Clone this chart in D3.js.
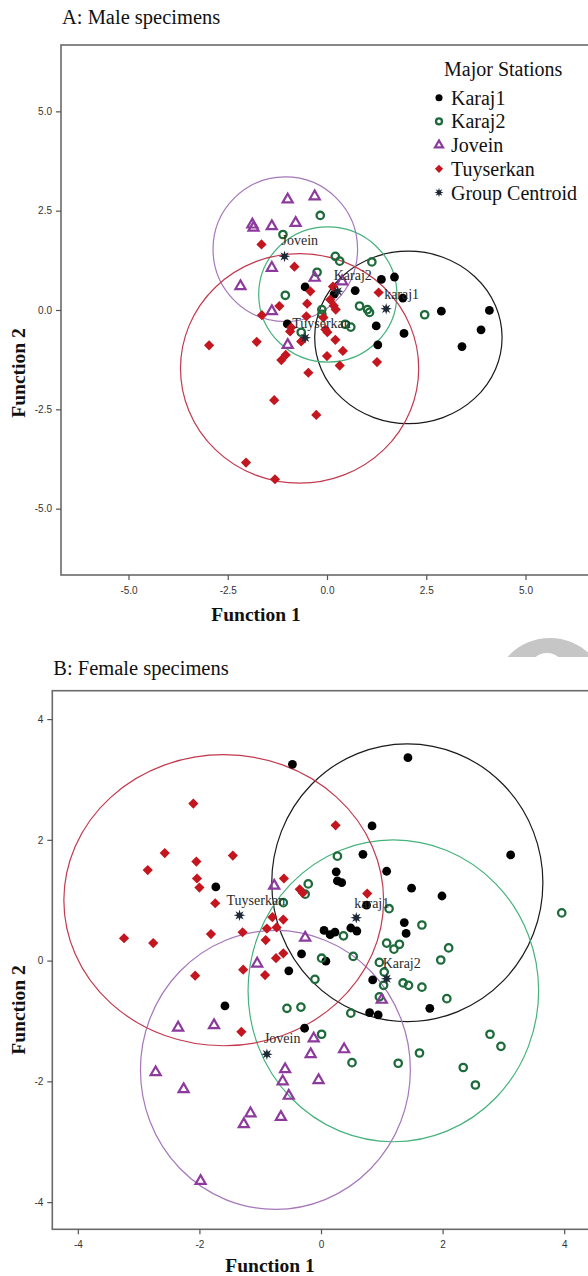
<!DOCTYPE html>
<html>
<head>
<meta charset="utf-8">
<script src="https://cdn.jsdelivr.net/npm/d3@7"></script>
<style>
  html, body { margin: 0; padding: 0; background: #fff; }
  svg { display: block; }
</style>
</head>
<body>
<svg id="chart" width="588" height="1276"></svg>
<script>
// discriminant scores (Function 1, Function 2)

const stations = ['Karaj1', 'Karaj2', 'Jovein', 'Tuyserkan']
const centroidLabels = ['karaj1', 'Karaj2', 'Jovein', 'Tuyserkan']
const legendLabels = ['Karaj1', 'Karaj2', 'Jovein', 'Tuyserkan', 'Group Centroid']

// A: male specimens
const maleKaraj1 = [[-0.55, 0.58], [1.37, 0.77], [1.70, 0.83], [0.71, 0.49], [1.91, 0.30], [2.88, -0.03],
    [4.09, -0.01], [1.24, -0.40], [1.94, -0.59], [3.88, -0.50], [3.40, -0.92], [1.28, -0.88],
    [-1.00, -0.35], [0.18, 0.40]]
const maleKaraj2 = [[-0.17, 2.38], [-1.11, 1.90], [0.21, 1.35], [0.32, 1.23], [1.13, 1.21], [-0.25, 0.95],
    [-1.05, 0.37], [0.82, 0.10], [1.02, 0.01], [1.07, -0.06], [0.46, -0.36], [0.60, -0.43],
    [-0.65, -0.56], [2.46, -0.12], [-0.13, 0.01], [-0.13, -0.11]]
const maleJovein = [[-0.99, 2.78], [-0.31, 2.86], [-1.88, 2.15], [-1.85, 2.07], [-1.39, 2.11], [-0.79, 2.19],
    [-1.39, 1.06], [-2.18, 0.60], [-0.31, 0.81], [0.38, 0.72], [-1.39, -0.03], [-0.99, -0.88]]
const maleTuyserkan = [[-1.65, 1.65], [-0.82, 1.09], [-0.42, 0.47], [0.15, 0.59], [-0.50, 0.16], [-1.20, 0.10],
    [-1.64, -0.13], [-0.52, -0.16], [0.08, 0.26], [0.17, 0.11], [0.22, 0.01], [1.30, 0.44],
    [-0.90, -0.44], [-0.93, -0.54], [-0.04, -0.49], [0.01, -0.56], [-0.65, -0.79], [0.21, -0.75],
    [-1.77, -0.80], [-2.97, -0.89], [0.40, -1.03], [0.00, -1.16], [-1.04, -1.13], [-1.15, -1.26],
    [1.26, -1.31], [0.32, -1.40], [-0.47, -1.58], [-1.33, -2.27], [-0.27, -2.64], [-2.04, -3.84],
    [-1.31, -4.26], [-0.09, -0.19]]
const maleCentroids = [[1.49, 0.03], [0.27, 0.47], [-1.07, 1.35], [-0.55, -0.70]]
// territory circles: centre x, centre y, radius along x, radius along y
const maleCircles = [[2.05, -0.69, 2.36, 2.17], [0.02, 0.39, 1.74, 1.70], [-1.05, 1.53, 1.82, 1.82], [-0.69, -1.47, 3.00, 2.89]]
const maleTicks = [-5, -2.5, 0, 2.5, 5]

// B: female specimens
const femaleKaraj1 = [[-0.47, 3.25], [1.43, 3.36], [0.84, 2.23], [3.12, 1.75], [0.69, 1.76], [0.25, 1.47],
    [1.08, 1.48], [0.27, 1.32], [0.34, 1.29], [1.49, 1.20], [1.99, 1.07], [0.75, 0.92],
    [1.37, 0.63], [1.40, 0.45], [0.05, 0.50], [0.15, 0.43], [0.23, 0.47], [0.49, 0.54],
    [0.59, 0.49], [-0.32, 0.11], [0.08, -0.01], [-0.53, -0.17], [0.85, -0.32], [1.79, -0.79],
    [-1.73, 1.22], [-1.58, -0.75], [-0.27, -1.12], [0.80, -0.86], [0.94, -0.90]]
const femaleKaraj2 = [[0.27, 1.73], [-0.21, 1.27], [-0.26, 1.10], [-0.62, 0.96], [1.12, 0.86], [1.66, 0.59],
    [3.96, 0.79], [0.37, 0.41], [1.08, 0.29], [1.20, 0.19], [1.29, 0.27], [2.10, 0.21],
    [0.53, 0.07], [0.01, 0.04], [1.97, 0.01], [0.96, -0.03], [1.04, -0.19], [1.03, -0.41],
    [1.35, -0.37], [1.44, -0.41], [1.66, -0.44], [-0.10, -0.31], [0.96, -0.60], [2.07, -0.63],
    [-0.56, -0.79], [-0.33, -0.77], [0.49, -0.87], [0.01, -1.22], [0.51, -1.69], [1.27, -1.70],
    [1.62, -1.53], [2.78, -1.22], [2.96, -1.42], [2.34, -1.77], [2.54, -2.06]]
const femaleJovein = [[-0.77, 1.24], [-1.05, -0.05], [-0.26, 0.38], [1.00, -0.65], [-2.35, -1.11], [-1.76, -1.07],
    [-2.72, -1.85], [-2.26, -2.13], [-0.59, -1.80], [-0.63, -2.00], [-0.53, -2.24], [-1.16, -2.53],
    [-1.27, -2.71], [-0.66, -2.59], [-1.98, -3.65], [-0.12, -1.29], [-0.17, -1.55], [0.38, -1.47],
    [-0.04, -1.98]]
const femaleTuyserkan = [[-2.10, 2.60], [-2.57, 1.78], [-2.85, 1.50], [-2.05, 1.64], [-1.45, 1.74], [-2.04, 1.36],
    [-2.00, 1.21], [-1.74, 0.95], [-0.61, 1.36], [-3.24, 0.37], [-2.76, 0.29], [-1.81, 0.44],
    [-1.29, 0.47], [-0.80, 0.72], [-0.62, 0.68], [-0.89, 0.53], [-0.73, 0.55], [-0.91, 0.34],
    [-0.35, 1.18], [-0.30, 1.12], [-0.74, 0.04], [-0.62, 0.12], [-1.28, -0.15], [0.24, 2.24],
    [0.76, 1.11], [-0.92, -0.24], [-2.07, -0.25], [-1.31, -1.18]]
const femaleCentroids = [[0.58, 0.71], [1.08, -0.30], [-0.89, -1.55], [-1.34, 0.75]]
const femaleCircles = [[1.42, 1.29, 2.23, 2.30], [1.19, -0.50, 2.39, 2.50], [-0.75, -1.81, 2.22, 2.31], [-1.60, 1.00, 2.63, 2.41]]
const femaleTicks = [-4, -2, 0, 2, 4]

const colors = { Karaj1: '#000000', Karaj2: '#1d6b3a', Jovein: '#8c3a9c', Tuyserkan: '#c3161f' }
const ringColors = { Karaj1: '#1a1a1a', Karaj2: '#45b27c', Jovein: '#a577b9', Tuyserkan: '#c23a4f' }
const labelShift = { Karaj1: [-2, -10], Karaj2: [-4, -11], Jovein: [-3, -11], Tuyserkan: [-13, -10] }

const svg = d3.select('#chart')

// grey watermark fragment sitting above panel B in the scan
svg.append('clipPath').attr('id', 'markClip')
    .append('rect').attr('x', 480).attr('y', 620).attr('width', 108).attr('height', 37)
const mark = svg.append('g').attr('clip-path', 'url(#markClip)')
mark.append('circle').attr('cx', 550).attr('cy', 695).attr('r', 57).attr('fill', '#c6c6c6')
mark.append('circle').attr('cx', 547).attr('cy', 671).attr('r', 18).attr('fill', '#fff')

// 8 point burst used by SPSS for group centroids
const centroidPath = (r) => {
    const pts = []
    for (let i = 0; i < 16; i++) {
        const a = i * Math.PI / 8 - Math.PI / 2
        const rr = i % 2 === 0 ? r : r * 0.45
        pts.push([Math.cos(a) * rr, Math.sin(a) * rr])
    }
    return 'M' + pts.map(p => p.join(',')).join('L') + 'Z'
}

const drawMarker = (g, station, size) => {
    if (station === 'Karaj1') {
        g.append('circle').attr('r', 4.4 * size).attr('fill', colors.Karaj1)
    } else if (station === 'Karaj2') {
        g.append('circle').attr('r', 3.7 * size).attr('fill', 'none')
            .attr('stroke', colors.Karaj2).attr('stroke-width', 2.3)
    } else if (station === 'Jovein') {
        g.append('path').attr('d', d3.symbol(d3.symbolTriangle, 44 * size * size)())
            .attr('fill', 'none').attr('stroke', colors.Jovein).attr('stroke-width', 2.2)
            .attr('stroke-linejoin', 'miter')
    } else if (station === 'Tuyserkan') {
        g.append('path').attr('d', d3.symbol(d3.symbolSquare, 52 * size * size)())
            .attr('transform', 'rotate(45)').attr('fill', colors.Tuyserkan)
    } else {
        g.append('path').attr('d', centroidPath(5.8 * size)).attr('fill', '#1d2836')
    }
}

const drawPanel = (cfg) => {
    const { x, y, ticks, groups, centroids, circles, title, titleY, fmt, xTitleX, xTitleY, yTitleY } = cfg
    const [x0, x1] = x.range()
    const [y0, y1] = y.range()
    const panel = svg.append('g')

    panel.append('text')
        .attr('x', x0 + 1).attr('y', titleY)
        .attr('font-family', 'Liberation Serif, Times New Roman, serif')
        .attr('font-size', '20.5px').attr('fill', '#111')
        .text(title)

    // plot frame
    panel.append('rect')
        .attr('x', x0).attr('y', y1)
        .attr('width', x1 - x0).attr('height', y0 - y1)
        .attr('fill', 'none').attr('stroke', '#6a6a6a').attr('stroke-width', 1.6)

    const xAxis = panel.append('g')
        .attr('transform', `translate(0, ${y0})`)
        .call(d3.axisBottom(x).tickValues(ticks).tickSize(5).tickSizeOuter(0).tickFormat(fmt))
    const yAxis = panel.append('g')
        .attr('transform', `translate(${x0}, 0)`)
        .call(d3.axisLeft(y).tickValues(ticks).tickSize(5).tickSizeOuter(0).tickFormat(fmt))
    ;[xAxis, yAxis].forEach(a => {
        a.select('.domain').remove()
        a.selectAll('.tick line').attr('stroke', '#555').attr('stroke-width', 1.2)
        a.selectAll('.tick text')
            .attr('font-family', 'Liberation Sans, Arial, sans-serif')
            .attr('font-size', '10px').attr('fill', '#333')
    })
    xAxis.selectAll('.tick text').attr('dy', '1.05em')
    yAxis.selectAll('.tick text').attr('dx', '-0.1em')

    panel.append('text')
        .attr('x', xTitleX).attr('y', xTitleY)
        .attr('text-anchor', 'middle')
        .attr('font-family', 'Liberation Serif, Times New Roman, serif')
        .attr('font-weight', 'bold').attr('font-size', '19.5px').attr('fill', '#111')
        .text('Function 1')
    panel.append('text')
        .attr('transform', `translate(25, ${yTitleY}) rotate(-90)`)
        .attr('text-anchor', 'middle')
        .attr('font-family', 'Liberation Serif, Times New Roman, serif')
        .attr('font-weight', 'bold').attr('font-size', '19.5px').attr('fill', '#111')
        .text('Function 2')

    // territory circles
    panel.selectAll('.ring')
        .data(circles)
        .enter()
        .append('ellipse')
        .attr('cx', d => x(d[0]))
        .attr('cy', d => y(d[1]))
        .attr('rx', d => x(d[2]) - x(0))
        .attr('ry', d => y(0) - y(d[3]))
        .attr('fill', 'none')
        .attr('stroke', (d, i) => ringColors[stations[i]])
        .attr('stroke-width', 1.2)

    groups.forEach((pts, i) => {
        const station = stations[i]
        panel.selectAll(`.pt-${station}`)
            .data(pts)
            .enter()
            .append('g')
            .attr('transform', d => `translate(${x(d[0])}, ${y(d[1])})`)
            .each(function () { drawMarker(d3.select(this), station, 1) })
    })

    centroids.forEach((c, i) => {
        const station = stations[i]
        const cx = x(c[0])
        const cy = y(c[1])
        panel.append('text')
            .attr('x', cx + labelShift[station][0])
            .attr('y', cy + labelShift[station][1])
            .attr('font-family', 'Liberation Serif, Times New Roman, serif')
            .attr('font-size', '14px').attr('fill', '#2a2a2a')
            .text(centroidLabels[i])
        const g = panel.append('g').attr('transform', `translate(${cx}, ${cy})`)
        drawMarker(g, 'centroid', 1)
    })
}

drawPanel({
    x: d3.scaleLinear().domain([-6.7, 6.7]).range([61, 593]),
    y: d3.scaleLinear().domain([-6.67, 6.67]).range([575, 45]),
    ticks: maleTicks,
    groups: [maleKaraj1, maleKaraj2, maleJovein, maleTuyserkan],
    centroids: maleCentroids,
    circles: maleCircles,
    title: 'A: Male specimens',
    titleY: 24,
    fmt: d => d.toFixed(1),
    xTitleX: 256, xTitleY: 621,
    yTitleY: 373
})

drawPanel({
    x: d3.scaleLinear().domain([-4.42, 4.42]).range([52.3, 589.7]),
    y: d3.scaleLinear().domain([-4.45, 4.47]).range([1229.3, 690.7]),
    ticks: femaleTicks,
    groups: [femaleKaraj1, femaleKaraj2, femaleJovein, femaleTuyserkan],
    centroids: femaleCentroids,
    circles: femaleCircles,
    title: 'B: Female specimens',
    titleY: 675,
    fmt: d => String(d),
    xTitleX: 270, xTitleY: 1272,
    yTitleY: 1010
})

// legend (panel A only)
const legend = svg.append('g')
legend.append('text')
    .attr('x', 444).attr('y', 76)
    .attr('font-family', 'Liberation Serif, Times New Roman, serif')
    .attr('font-size', '20px').attr('fill', '#111')
    .text('Major Stations')
legendLabels.forEach((label, i) => {
    const cy = 97.7 + i * 23.7
    const g = legend.append('g').attr('transform', `translate(439, ${cy})`)
    drawMarker(g, i < 4 ? stations[i] : 'centroid', 0.8)
    legend.append('text')
        .attr('x', 451).attr('y', cy + 7)
        .attr('font-family', 'Liberation Serif, Times New Roman, serif')
        .attr('font-size', '20px').attr('fill', '#111')
        .text(label)
})
</script>
</body>
</html>
